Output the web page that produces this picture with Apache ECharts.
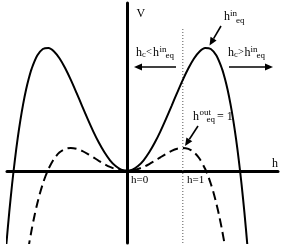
<!DOCTYPE html>
<html><head><meta charset="utf-8">
<script src="https://cdn.jsdelivr.net/npm/echarts@6/dist/echarts.min.js"></script>
<style>html,body{margin:0;padding:0;background:#fff}#c{width:283px;height:249px}</style>
</head><body><div id="c"></div>
<script>
// Solid curve (h_c < h_eq^in potential)
const hSolid = [-2.2,-2.15,-2.1,-2.05,-2.0,-1.95,-1.9,-1.85,-1.8,-1.75,-1.7,-1.6,-1.5,-1.4,-1.3,-1.2,-1.1,-1.0,-0.9,-0.8,-0.7,-0.6,-0.5,-0.4,-0.3,-0.2,-0.1,0,
  0.1,0.2,0.3,0.4,0.5,0.6,0.7,0.8,0.9,1.0,1.1,1.2,1.3,1.4,1.5,1.6,1.7,1.75,1.8,1.85,1.9,1.95,2.0,2.05,2.1,2.15,2.2];
const vSolid = [-1.910,-1.296,-0.743,-0.249,0.189,0.575,0.911,1.202,1.449,1.655,1.824,2.060,2.178,2.196,2.134,2.008,1.833,1.626,1.398,1.162,0.928,0.706,0.505,0.331,0.189,0.085,0.022,0,
  0.022,0.085,0.189,0.331,0.505,0.706,0.928,1.162,1.398,1.626,1.833,2.008,2.134,2.196,2.178,2.060,1.824,1.655,1.449,1.202,0.911,0.575,0.189,-0.249,-0.743,-1.296,-1.910];
// Dashed curve
const hDashed = [-1.8,-1.75,-1.7,-1.65,-1.6,-1.55,-1.5,-1.45,-1.4,-1.3,-1.2,-1.1,-1.0,-0.9,-0.8,-0.7,-0.6,-0.5,-0.4,-0.3,-0.2,-0.1,0,
  0.1,0.2,0.3,0.4,0.5,0.6,0.7,0.8,0.9,1.0,1.1,1.2,1.3,1.4,1.45,1.5,1.55,1.6,1.65,1.7,1.75,1.8];
const vDashed = [-1.647,-1.334,-1.055,-0.806,-0.588,-0.396,-0.231,-0.088,0.032,0.215,0.331,0.392,0.410,0.395,0.357,0.303,0.242,0.179,0.121,0.070,0.032,0.008,0,
  0.008,0.032,0.070,0.121,0.179,0.242,0.303,0.357,0.395,0.410,0.392,0.331,0.215,0.032,-0.088,-0.231,-0.396,-0.588,-0.806,-1.055,-1.334,-1.647];
// Dotted reference line at h = 1
const refH = [1, 1];
const refV = [-1.29, 2.57];
const xRange = [-2.14, 2.70];
const yRange = [-1.29, 3.0];

const zip = (a, b) => a.map((x, i) => [x, b[i]]);
const FONT = '"Liberation Serif","Times New Roman",serif';
function t(x, y, s, size) {
  return {type:'text', x:x, y:y, silent:true, z:100,
    style:{text:s, font:size+'px '+FONT, fill:'#000', align:'left', verticalAlign:'middle', textVerticalAlign:'middle'}};
}
function arrow(x1, y1, x2, y2) {
  const L = 8, W = 3.5;
  const dx = x2 - x1, dy = y2 - y1, d = Math.hypot(dx, dy);
  const ux = dx / d, uy = dy / d;
  const bx = x2 - ux * L, by = y2 - uy * L;
  return [
    {type:'line', silent:true, z:100, shape:{x1:x1, y1:y1, x2:bx, y2:by}, style:{stroke:'#000', lineWidth:1.6}},
    {type:'polygon', silent:true, z:100, shape:{points:[[x2,y2],[bx - uy*W, by + ux*W],[bx + uy*W, by - ux*W]]}, style:{fill:'#000'}}
  ];
}
const FS = 12, SS = 9;
const graphics = [
  t(136.5, 13.5, 'V', FS),
  t(272, 163.5, 'h', FS),
  t(131, 180, 'h=0', 11),
  t(187, 180, 'h=1', 11),
  // top h^in_eq
  t(224, 17, 'h', FS), t(230, 13.5, 'in', SS), t(236, 20.5, 'eq', SS),
  // left h_c < h^in_eq
  t(136, 52.5, 'h', FS), t(142, 54.5, 'c', 8.5), t(146, 52.5, '<', 10.5), t(153, 52.5, 'h', FS), t(159.5, 49.5, 'in', SS), t(165.5, 56, 'eq', SS),
  // right h_c > h^in_eq
  t(228, 52.5, 'h', FS), t(234, 54.5, 'c', 8.5), t(238, 52.5, '>', 10.5), t(244.5, 52.5, 'h', FS), t(250.5, 49.5, 'in', SS), t(256.5, 56, 'eq', SS),
  // h^out_eq = 1
  t(193, 117, 'h', FS), t(199.5, 112.5, 'out', SS), t(206.5, 120, 'eq', SS), t(217, 117, '= 1', FS)
].concat(arrow(221, 26, 209.5, 45.5), arrow(198, 126, 185, 146), arrow(176, 67, 134, 67), arrow(229, 67, 273, 67));

const chart = echarts.init(document.getElementById('c'), null, {renderer:'canvas'});
const axisCommon = {
  type:'value', axisLine:{show:true, onZero:true, lineStyle:{color:'#000', width:3}},
  axisTick:{show:false}, axisLabel:{show:false}, splitLine:{show:false}
};
chart.setOption({
  animation:false,
  backgroundColor:'#fff',
  grid:{left:7, right:5, top:3, bottom:6, containLabel:false},
  xAxis:Object.assign({}, axisCommon, {min:xRange[0], max:xRange[1]}),
  yAxis:Object.assign({}, axisCommon, {min:yRange[0], max:yRange[1]}),
  series:[
    {type:'line', data:zip(refH, refV), showSymbol:false, lineStyle:{color:'#555', width:1, type:[1,2]}, z:1},
    {type:'line', data:zip(hSolid, vSolid), smooth:0.3, showSymbol:false, lineStyle:{color:'#000', width:2}, z:3},
    {type:'line', data:zip(hDashed, vDashed), smooth:0.3, showSymbol:false, lineStyle:{color:'#000', width:2, type:[9,5]}, z:3}
  ],
  graphic:graphics
});
</script>
</body></html>
